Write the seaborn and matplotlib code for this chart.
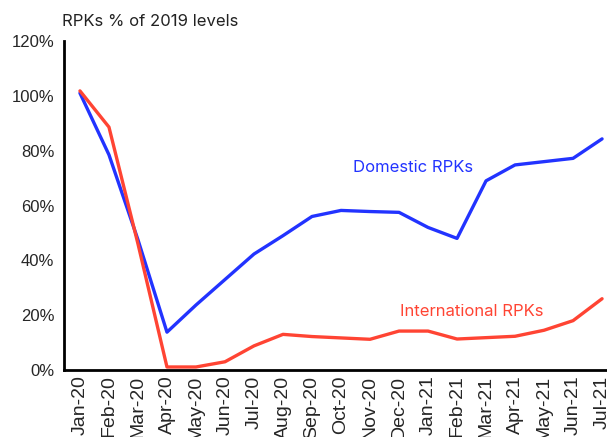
import numpy as np
import pandas as pd
import matplotlib
matplotlib.use("Agg")
import matplotlib.pyplot as plt
from matplotlib.ticker import FixedLocator, PercentFormatter
import seaborn as sns

# Données (% des niveaux de 2019)
months = ["Jan-20", "Feb-20", "Mar-20", "Apr-20", "May-20", "Jun-20", "Jul-20",
          "Aug-20", "Sep-20", "Oct-20", "Nov-20", "Dec-20", "Jan-21", "Feb-21",
          "Mar-21", "Apr-21", "May-21", "Jun-21", "Jul-21"]
domestic = [101, 78.5, 47.5, 13.8, 23.7, 33, 42.3, 49, 56, 58.2, 57.8, 57.5,
            52, 48, 69, 74.8, 76, 77.2, 84.3]
international = [101.8, 88.6, 46, 1.1, 1.1, 3, 8.8, 13, 12.2, 11.7, 11.2, 14.2,
                 14.2, 11.3, 11.8, 12.3, 14.5, 18, 26]

blue = "#2233ff"
red = "#ff4433"

df = pd.DataFrame({"pos": np.arange(len(months)), "month": months,
                   "Domestic": domestic, "International": international})

sns.set_style("white")
plt.rcParams["font.family"] = ["Liberation Sans", "DejaVu Sans"]

fig = plt.figure(figsize=(6.07, 4.37), dpi=100)
ax = fig.add_axes([64 / 607, 67 / 437, 1 - 64 / 607, (370 - 41) / 437])

sns.lineplot(data=df, x="pos", y="Domestic", color=blue, lw=2.4, ax=ax)
sns.lineplot(data=df, x="pos", y="International", color=red, lw=2.4, ax=ax)

ax.set_xlim(-0.55, 18.17)
ax.set_ylim(0, 120)
ax.set_xticks(df["pos"])
ax.set_xticklabels(months, rotation=90, fontsize=14)
ax.xaxis.set_minor_locator(FixedLocator(np.arange(0.45, len(months), 1)))
ax.tick_params(axis="x", which="major", length=0, pad=4)
ax.tick_params(axis="x", which="minor", length=5, width=2, color="black", direction="out")
ax.set_yticks(np.arange(0, 121, 20))
ax.yaxis.set_major_formatter(PercentFormatter(decimals=0))
ax.tick_params(axis="y", length=5, width=2, color="black", direction="out", labelsize=12, pad=2)
ax.set_xlabel("")
ax.set_ylabel("")

for s in ["top", "right"]:
    ax.spines[s].set_visible(False)
for s in ["left", "bottom"]:
    ax.spines[s].set_linewidth(2)
    ax.spines[s].set_color("black")

fig.text(62 / 607, 1 - 22 / 437, "RPKs % of 2019 levels", fontsize=12,
         ha="left", va="center", color="#222222", family=["Inter", "DejaVu Sans"])
ax.text(11.5, 73.7, "Domestic RPKs", color=blue, fontsize=12, ha="center", va="center",
        family=["Inter", "DejaVu Sans"])
ax.text(13.5, 21.2, "International RPKs", color=red, fontsize=12, ha="center", va="center",
        family=["Inter", "DejaVu Sans"])

plt.savefig("out.png", dpi=100)
